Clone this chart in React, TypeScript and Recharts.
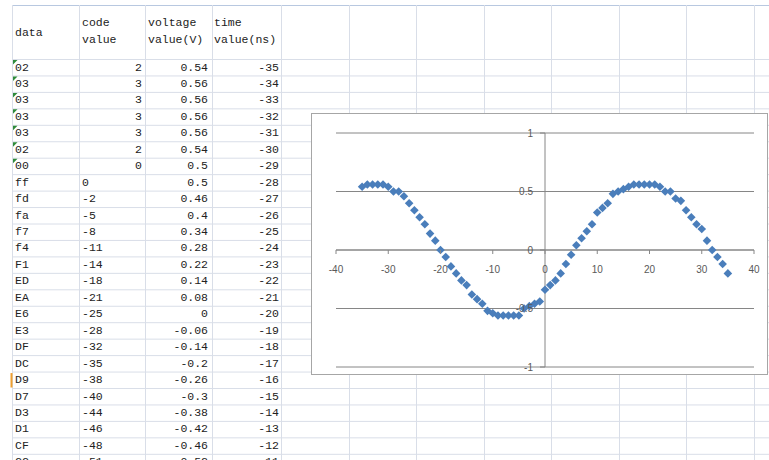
import { ScatterChart, Scatter, XAxis, YAxis, CartesianGrid, ReferenceLine } from "recharts";

// spreadsheet rows visible on the left
const sheetData = ["02", "03", "03", "03", "03", "02", "00", "ff", "fd", "fa", "f7", "f4", "F1", "ED", "EA", "E6", "E3", "DF", "DC", "D9", "D7", "D3", "D1", "CF", "CC"];
const sheetCode = ["2", "3", "3", "3", "3", "2", "0", "0", "-2", "-5", "-8", "-11", "-14", "-18", "-21", "-25", "-28", "-32", "-35", "-38", "-40", "-44", "-46", "-48", "-51"];
const sheetVoltage = ["0.54", "0.56", "0.56", "0.56", "0.56", "0.54", "0.5", "0.5", "0.46", "0.4", "0.34", "0.28", "0.22", "0.14", "0.08", "0", "-0.06", "-0.14", "-0.2", "-0.26", "-0.3", "-0.38", "-0.42", "-0.46", "-0.52"];
const sheetTime = ["-35", "-34", "-33", "-32", "-31", "-30", "-29", "-28", "-27", "-26", "-25", "-24", "-23", "-22", "-21", "-20", "-19", "-18", "-17", "-16", "-15", "-14", "-13", "-12", "-11"];

// scatter series (time in ns, voltage in V)
const chartTime = [-35, -34, -33, -32, -31, -30, -29, -28, -27, -26, -25, -24, -23, -22, -21, -20, -19, -18, -17, -16, -15, -14, -13, -12, -11, -10, -9, -8, -7, -6, -5, -4, -3, -2, -1, 0, 1, 2, 3, 4, 5, 6, 7, 8, 9, 10, 11, 12, 13, 14, 15, 16, 17, 18, 19, 20, 21, 22, 23, 24, 25, 26, 27, 28, 29, 30, 31, 32, 33, 34, 35];
const chartVoltage = [0.54, 0.56, 0.56, 0.56, 0.56, 0.54, 0.5, 0.5, 0.46, 0.4, 0.34, 0.28, 0.22, 0.14, 0.08, 0, -0.06, -0.14, -0.2, -0.26, -0.3, -0.38, -0.42, -0.46, -0.52, -0.54, -0.56, -0.56, -0.56, -0.56, -0.56, -0.5, -0.48, -0.46, -0.44, -0.34, -0.3, -0.26, -0.2, -0.12, -0.04, 0.04, 0.1, 0.16, 0.22, 0.32, 0.36, 0.4, 0.48, 0.5, 0.52, 0.54, 0.56, 0.56, 0.56, 0.56, 0.56, 0.54, 0.5, 0.5, 0.44, 0.42, 0.34, 0.28, 0.22, 0.18, 0.08, 0, -0.06, -0.12, -0.2];

const xTicks = [-40, -30, -20, -10, 0, 10, 20, 30, 40];
const yTicks = [-1, -0.5, 0, 0.5, 1];

const points = chartTime.map((t, i) => ({ t, v: chartVoltage[i] }));

const CW = 455;
const CH = 260;
// axis sizes of 1px come out of these margins
const M = { top: 19, right: 13, bottom: 6, left: 23 };
const ZERO_X = M.left + 1 + (CW - M.left - 1 - M.right) / 2;
const ZERO_Y = M.top + (CH - M.top - M.bottom - 1) / 2;
const AXIS = "#868686";
const BLUE = "#4a7ebb";

const colLines = [12.5, 79.5, 145.5, 212.5, 281.5, 349.5, 416.5, 484.5, 551.5, 619.5, 686.5, 754.5];
const ROW_TOP = 59.5;
const ROW_H = 16.45;

const XTick = (props: any) => {
  const { x, payload } = props;
  return (
    <g>
      <line x1={x} x2={x} y1={ZERO_Y} y2={ZERO_Y + 4} stroke={AXIS} />
      <text x={x} y={ZERO_Y + 20} textAnchor="middle" dominantBaseline="middle" fontSize={10} fill="#595959" fontFamily="Liberation Sans, Arial, sans-serif">
        {payload.value}
      </text>
    </g>
  );
};

const YTick = (props: any) => {
  const { y, payload } = props;
  return (
    <g>
      <line x1={ZERO_X - 5} x2={ZERO_X} y1={y} y2={y} stroke={AXIS} />
      <text x={ZERO_X - 12} y={y + 1} textAnchor="end" dominantBaseline="middle" fontSize={10} fill="#595959" fontFamily="Liberation Sans, Arial, sans-serif">
        {payload.value}
      </text>
    </g>
  );
};

const Diamond = (props: any) => {
  const { cx, cy } = props;
  const r = 4.3;
  return <path d={`M${cx},${cy - r}L${cx + r},${cy}L${cx},${cy + r}L${cx - r},${cy}Z`} fill={BLUE} />;
};

const cellStyle = (left: number, width: number, align: "left" | "right", row: number) => ({
  position: "absolute" as const,
  left,
  width,
  top: ROW_TOP + row * ROW_H,
  height: ROW_H,
  lineHeight: `${ROW_H}px`,
  textAlign: align,
  whiteSpace: "pre" as const,
});

export default function App() {
  const rowLines: number[] = [5.5];
  for (let k = 0; k < 26; k++) rowLines.push(ROW_TOP + k * ROW_H);

  return (
    <div
      style={{
        position: "absolute",
        left: 0,
        top: 0,
        width: 769,
        height: 460,
        overflow: "hidden",
        background: "#fff",
        fontFamily: "'Liberation Mono', 'DejaVu Sans Mono', monospace",
        fontSize: 11.5,
        color: "#222",
      }}
    >
      <svg width={769} height={460} style={{ position: "absolute", left: 0, top: 0 }}>
        {rowLines.map((y, i) => (
          <line key={"r" + i} x1={12} x2={769} y1={y} y2={y} stroke={i === 0 ? "#b8c8e0" : "#d9dee8"} />
        ))}
        {colLines.map((x, i) => (
          <line key={"c" + i} x1={x} x2={x} y1={5} y2={460} stroke="#d9dee8" />
        ))}
        {sheetData.slice(0, 7).map((_, i) => (
          <path key={"g" + i} d={`M13,${ROW_TOP + i * ROW_H + 0.5}h4.5L13,${ROW_TOP + i * ROW_H + 5}Z`} fill="#2e8b3a" />
        ))}
        <rect x={10.5} y={ROW_TOP + 19 * ROW_H + 1} width={2} height={ROW_H - 2} fill="#f0a030" />
      </svg>

      {/* header */}
      <div style={{ position: "absolute", left: 15, top: 25, lineHeight: "16px" }}>data</div>
      <div style={{ position: "absolute", left: 82, top: 14, lineHeight: "17px", whiteSpace: "pre" }}>{"code\nvalue"}</div>
      <div style={{ position: "absolute", left: 148, top: 14, lineHeight: "17px", whiteSpace: "pre" }}>{"voltage\nvalue(V)"}</div>
      <div style={{ position: "absolute", left: 214, top: 14, lineHeight: "17px", whiteSpace: "pre" }}>{"time\nvalue(ns)"}</div>

      {sheetData.map((d, i) => (
        <div key={"row" + i}>
          <div style={cellStyle(15, 60, "left", i)}>{d}</div>
          {i < 7 ? (
            <div style={cellStyle(80, 62, "right", i)}>{sheetCode[i]}</div>
          ) : (
            <div style={cellStyle(82, 60, "left", i)}>{sheetCode[i]}</div>
          )}
          <div style={cellStyle(146, 62, "right", i)}>{sheetVoltage[i]}</div>
          <div style={cellStyle(213, 66, "right", i)}>{sheetTime[i]}</div>
        </div>
      ))}

      <div
        style={{
          position: "absolute",
          left: 311,
          top: 113,
          width: CW,
          height: CH,
          border: "1px solid #a6a6a6",
          background: "#fff",
        }}
      >
        <ScatterChart width={CW} height={CH} margin={M}>
          <CartesianGrid horizontal={true} vertical={false} stroke={AXIS} />
          <XAxis
            type="number"
            dataKey="t"
            domain={[-40, 40]}
            ticks={xTicks}
            interval={0}
            height={1}
            axisLine={false}
            tickLine={false}
            tick={<XTick />}
          />
          <YAxis
            type="number"
            dataKey="v"
            domain={[-1, 1]}
            ticks={yTicks}
            interval={0}
            width={1}
            axisLine={false}
            tickLine={false}
            tick={<YTick />}
          />
          <ReferenceLine x={0} stroke={AXIS} />
          <ReferenceLine y={0} stroke={AXIS} />
          <Scatter data={points} shape={<Diamond />} isAnimationActive={false} />
        </ScatterChart>
      </div>
    </div>
  );
}
